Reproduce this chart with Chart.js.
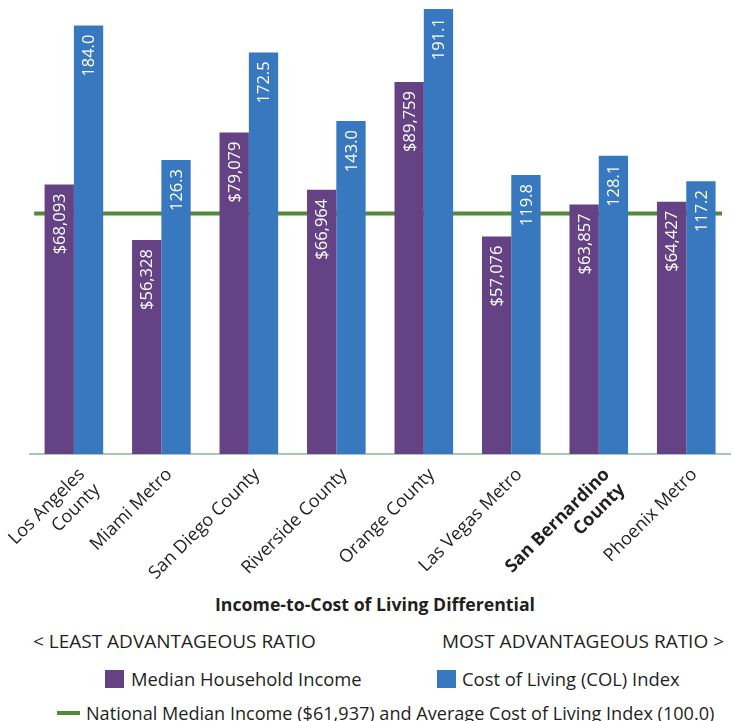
<!DOCTYPE html>
<html>
<head>
<meta charset="utf-8">
<script src="https://cdn.jsdelivr.net/npm/chart.js@4.4.1/dist/chart.umd.min.js"></script>
<style>
  html, body { margin: 0; padding: 0; background: #fff; }
  body { width: 733px; height: 721px; position: relative; overflow: hidden;
         font-family: 'Open Sans', Arial, sans-serif; color: #231f20; }
  #wrap { position: absolute; left: 0; top: 0; width: 733px; height: 590px; }
  .txt { position: absolute; white-space: nowrap; font-size: 18.4px; line-height: 24px; }
  .box { position: absolute; width: 19px; height: 18px; }
</style>
</head>
<body>
<div id="wrap"><canvas id="incomeColChart"></canvas></div>

<div class="txt" id="chartTitle" style="left:0; width:750px; top:592px; text-align:center; font-weight:bold; font-size:17.7px;"></div>
<div class="txt" style="left:33px; top:629px; font-size:19px;">&lt; LEAST ADVANTAGEOUS RATIO</div>
<div class="txt" style="right:9px; top:629px; font-size:19px;">MOST ADVANTAGEOUS RATIO &gt;</div>

<div class="box" id="legIncomeBox" style="left:105px; top:670px;"></div>
<div class="txt" id="legIncome" style="left:131px; top:667px;"></div>
<div class="box" id="legColBox" style="left:437px; top:670px;"></div>
<div class="txt" id="legCol" style="left:462px; top:667px;"></div>
<div id="legLineMark" style="position:absolute; left:57px; top:711px; width:23px; height:4px;"></div>
<div class="txt" id="legLine" style="left:86px; top:701px; font-size:18.1px;"></div>

<script>
const categories = [
  ['Los Angeles', 'County'],
  'Miami Metro',
  'San Diego County',
  'Riverside County',
  'Orange County',
  'Las Vegas Metro',
  ['San Bernardino', 'County'],
  'Phoenix Metro'
];
const medianIncome = [68093, 56328, 79079, 66964, 89759, 57076, 63857, 64427];
const colIndex = [184.0, 126.3, 172.5, 143.0, 191.1, 119.8, 128.1, 117.2];
const nationalIncome = 61937;
const nationalCol = 100.0;

const titleText = 'Income-to-Cost of Living Differential';
const incomeLabel = 'Median Household Income';
const colLabel = 'Cost of Living (COL) Index';
const lineLabel = 'National Median Income ($' + nationalIncome.toLocaleString('en-US') +
  ') and Average Cost of Living Index (' + nationalCol.toFixed(1) + ')';

const purple = '#644283';
const blue = '#3878be';
const green = '#52893a';
const fontFamily = "'Open Sans', Arial, sans-serif";

document.getElementById('chartTitle').textContent = titleText;
document.getElementById('legIncome').textContent = incomeLabel;
document.getElementById('legCol').textContent = colLabel;
document.getElementById('legLine').textContent = lineLabel;
document.getElementById('legIncomeBox').style.background = purple;
document.getElementById('legColBox').style.background = blue;
document.getElementById('legLineMark').style.background = green;

// national reference line, drawn behind the bars
const nationalLinePlugin = {
  id: 'nationalLine',
  beforeDatasetsDraw(chart) {
    const { ctx, chartArea, scales } = chart;
    const y = scales.yIncome.getPixelForValue(nationalIncome);
    ctx.save();
    ctx.strokeStyle = green;
    ctx.lineWidth = 4;
    ctx.beginPath();
    ctx.moveTo(chartArea.left + 4, y);
    ctx.lineTo(chartArea.right - 8, y);
    ctx.stroke();
    ctx.restore();
  }
};

// rotated value labels inside the top of each bar
const barLabelPlugin = {
  id: 'barLabels',
  afterDatasetsDraw(chart) {
    const { ctx } = chart;
    ctx.save();
    ctx.fillStyle = '#ffffff';
    ctx.font = '16.5px ' + fontFamily;
    ctx.textAlign = 'right';
    ctx.textBaseline = 'middle';
    chart.data.datasets.forEach((ds, di) => {
      const meta = chart.getDatasetMeta(di);
      meta.data.forEach((bar, i) => {
        const v = ds.data[i];
        const text = di === 0 ? '$' + v.toLocaleString('en-US') : v.toFixed(1);
        ctx.save();
        ctx.translate(bar.x, bar.y + 9);
        ctx.rotate(-Math.PI / 2);
        ctx.fillText(text, 0, 1);
        ctx.restore();
      });
    });
    ctx.restore();
  }
};

new Chart(document.getElementById('incomeColChart'), {
  type: 'bar',
  data: {
    labels: categories,
    datasets: [
      {
        label: incomeLabel,
        data: medianIncome,
        backgroundColor: purple,
        yAxisID: 'yIncome'
      },
      {
        label: colLabel,
        data: colIndex,
        backgroundColor: blue,
        yAxisID: 'yCol'
      }
    ]
  },
  options: {
    responsive: true,
    maintainAspectRatio: false,
    animation: false,
    layout: { padding: { left: 30, right: 3, top: 0, bottom: 0 } },
    datasets: {
      bar: { categoryPercentage: 0.67, barPercentage: 1.0 }
    },
    plugins: {
      legend: { display: false },
      tooltip: { enabled: false }
    },
    scales: {
      x: {
        grid: { display: false },
        border: { display: true, color: '#a6c8b5', width: 2 },
        ticks: {
          color: '#231f20',
          maxRotation: 45,
          minRotation: 45,
          padding: 2,
          labelOffset: 8,
          font: (c) => ({
            family: fontFamily,
            size: 18,
            weight: c.index === 6 ? 'bold' : 'normal'
          })
        },
        afterFit(scale) { scale.height = 136; }
      },
      yIncome: {
        display: false,
        min: 11100,
        max: 107100
      },
      yCol: {
        display: false,
        min: 0,
        max: 195
      }
    }
  },
  plugins: [nationalLinePlugin, barLabelPlugin]
});
</script>
</body>
</html>
